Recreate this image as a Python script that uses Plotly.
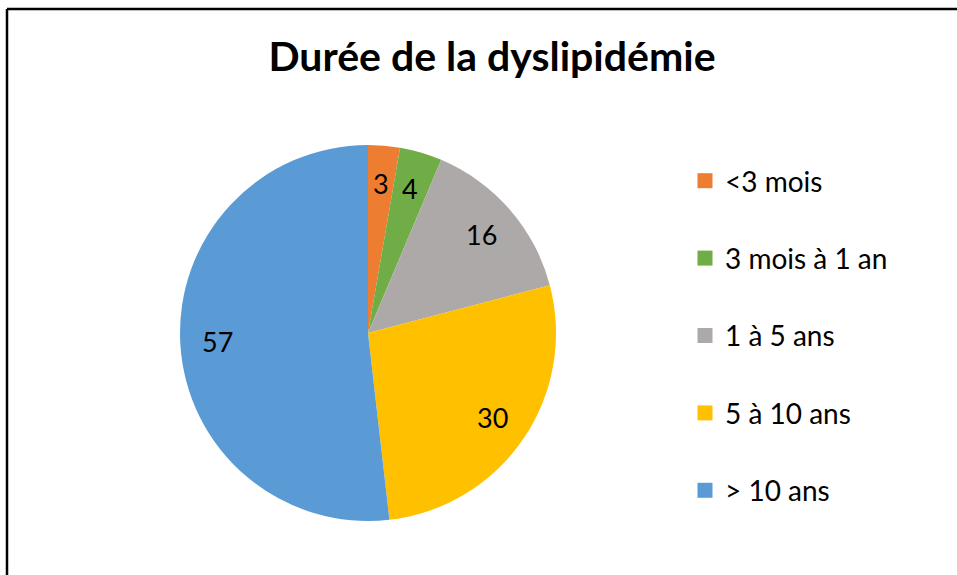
import math
import plotly.graph_objects as go

categories = ["<3 mois", "3 mois à 1 an", "1 à 5 ans", "5 à 10 ans", "> 10 ans"]
values = [3, 4, 16, 30, 57]
colors = ["#ED7D31", "#70AD47", "#ADA9A8", "#FFC000", "#5B9BD5"]
title = "Durée de la dyslipidémie"

W, H = 957, 575
cx, cy, R = 368, 333, 188   # pie centre / radius in figure pixels
label_r = 0.8 * R

fig = go.Figure()
fig.add_trace(go.Pie(
    labels=categories, values=values, sort=False, direction="clockwise",
    rotation=0, marker=dict(colors=colors, line=dict(width=0)),
    textinfo="none", showlegend=False, hoverinfo="label+value",
    domain=dict(x=[(cx - R) / W, (cx + R) / W], y=[(H - cy - R) / H, (H - cy + R) / H]),
))

# data labels placed at mid-angle of each slice (derived from the values)
total = sum(values)
cum = 0
annotations = []
for v in values:
    mid = (cum + v / 2) / total
    cum += v
    th = 2 * math.pi * mid
    px = cx + label_r * math.sin(th)
    py = cy - label_r * math.cos(th)
    annotations.append(dict(x=px / W, y=1 - py / H, xref="paper", yref="paper",
                            text=str(v), showarrow=False, xanchor="center", yanchor="middle",
                            font=dict(family="Lato", size=27, color="black")))

for i, (c, col) in enumerate(zip(categories, colors)):
    fig.add_trace(go.Scatter(x=[None], y=[None], mode="markers", name=c,
                             legendgroup=str(i),
                             marker=dict(symbol="square", size=15, color=col)))

fig.update_layout(
    width=W, height=H, margin=dict(l=0, r=0, t=0, b=0),
    paper_bgcolor="white", plot_bgcolor="white",
    title=dict(text="<b>" + title + "</b>", x=492 / W, xanchor="center",
               y=1 - 57 / H, yanchor="middle",
               font=dict(family="Lato", size=41, color="black")),
    xaxis=dict(visible=False), yaxis=dict(visible=False),
    annotations=annotations,
    legend=dict(x=685 / W, xanchor="left", y=1 - 156 / H, yanchor="top",
                font=dict(family="Lato", size=28, color="black"),
                tracegroupgap=38, bgcolor="rgba(0,0,0,0)"),
    shapes=[
        dict(type="line", xref="paper", yref="paper", x0=7 / W, x1=1.02, y0=1 - 9 / H, y1=1 - 9 / H,
             line=dict(color="black", width=2.5)),
        dict(type="line", xref="paper", yref="paper", x0=7 / W, x1=7 / W, y0=1 - 9 / H, y1=-0.02,
             line=dict(color="black", width=2.5)),
    ],
)
fig.write_html("out.html", config={"displayModeBar": False},
               post_script="document.body.style.margin='0';document.body.style.overflow='hidden';")
